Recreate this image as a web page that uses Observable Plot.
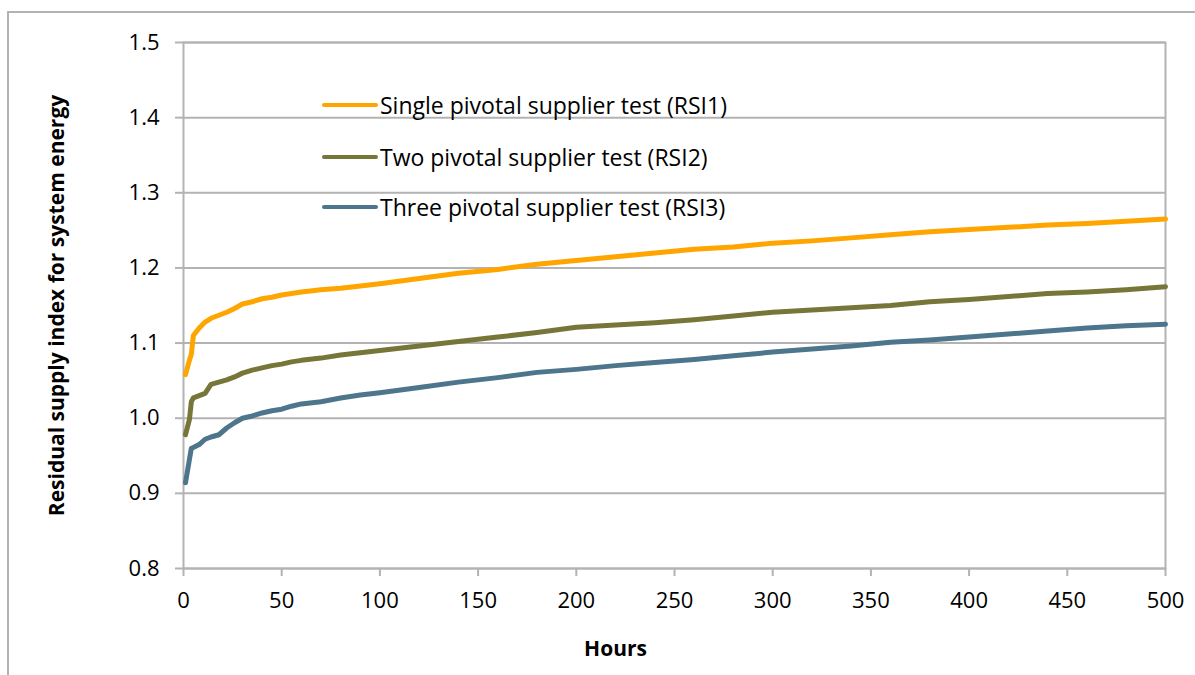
<!DOCTYPE html>
<html>
<head>
<meta charset="utf-8">
<script src="https://cdn.jsdelivr.net/npm/d3@7"></script>
<script src="https://cdn.jsdelivr.net/npm/@observablehq/plot@0.6"></script>
<style>
  html, body { margin: 0; padding: 0; background: #fff; }
  #wrap { position: relative; width: 1195px; height: 675px; overflow: hidden; font-family: "Open Sans", sans-serif; }
  #border { position: absolute; left: 7px; top: 11px; width: 1300px; height: 800px; border-left: 2px solid #b3b3b3; border-top: 2px solid #b3b3b3; }
  #chart { position: absolute; left: 0; top: 0; }
  .legend { position: absolute; left: 322px; font-size: 23px; color: #000; }
  .legend .row { position: absolute; left: 0; display: flex; align-items: center; white-space: nowrap; transform: translateY(-50%); }
  .legend .sw { width: 56px; height: 4px; border-radius: 2px; margin-right: 2px; }
</style>
</head>
<body>
<div id="wrap">
  <div id="border"></div>
  <div id="chart"></div>
  <div class="legend" id="legend"></div>
</div>
<script>
const hours = [1,3,4,5,8,11,14,18,22,26,30,35,40,45,50,55,60,70,80,90,100,120,140,160,180,200,220,240,260,280,300,320,340,360,380,400,420,440,460,480,500];
const rsi1 = [1.058,1.077,1.085,1.110,1.120,1.128,1.133,1.137,1.141,1.146,1.152,1.155,1.159,1.161,1.164,1.166,1.168,1.171,1.173,1.176,1.179,1.186,1.193,1.198,1.205,1.210,1.215,1.220,1.225,1.228,1.233,1.236,1.240,1.244,1.248,1.251,1.254,1.257,1.259,1.262,1.265];
const rsi2 = [0.978,0.998,1.022,1.027,1.030,1.033,1.045,1.048,1.051,1.055,1.060,1.064,1.067,1.070,1.072,1.075,1.077,1.080,1.084,1.087,1.090,1.096,1.102,1.108,1.114,1.121,1.124,1.127,1.131,1.136,1.141,1.144,1.147,1.150,1.155,1.158,1.162,1.166,1.168,1.171,1.175];
const rsi3 = [0.914,0.945,0.960,0.961,0.965,0.972,0.975,0.978,0.987,0.994,1.000,1.003,1.007,1.010,1.012,1.016,1.019,1.022,1.027,1.031,1.034,1.041,1.048,1.054,1.061,1.065,1.070,1.074,1.078,1.083,1.088,1.092,1.096,1.101,1.104,1.108,1.112,1.116,1.120,1.123,1.125];
const seriesNames = ["Single pivotal supplier test (RSI1)", "Two pivotal supplier test (RSI2)", "Three pivotal supplier test (RSI3)"];
const seriesColors = ["#ffa500", "#767638", "#4d758c"];
const xTicks = [0,50,100,150,200,250,300,350,400,450,500];
const yTicks = [0.8,0.9,1.0,1.1,1.2,1.3,1.4,1.5];
const xLabel = "Hours";
const yLabel = "Residual supply index for system energy";

const seriesValues = [rsi1, rsi2, rsi3];
const data = [];
seriesValues.forEach((vals, i) => vals.forEach((v, j) => data.push({series: seriesNames[i], h: hours[j], v})));

const grid = "#b3b3b3";
const chart = Plot.plot({
  width: 1195,
  height: 675,
  marginLeft: 183,
  marginRight: 30,
  marginTop: 42,
  marginBottom: 107,
  style: { fontFamily: "'Open Sans', sans-serif", fontSize: "22px", color: "#000", background: "transparent" },
  x: { domain: [0, 500] },
  y: { domain: [0.8, 1.5] },
  color: { domain: seriesNames, range: seriesColors },
  marks: [
    Plot.gridY(yTicks, { stroke: grid, strokeOpacity: 1, strokeWidth: 2 }),
    Plot.frame({ stroke: grid, strokeWidth: 2 }),
    Plot.axisY(yTicks, { tickSize: 8, tickPadding: 16, tickFormat: d => d.toFixed(1), stroke: grid, strokeWidth: 2, label: null }),
    Plot.axisX(xTicks, { tickSize: 8, tickPadding: 16, stroke: grid, strokeWidth: 2, label: null }),
    Plot.line(data, { x: "h", y: "v", z: "series", stroke: "series", strokeWidth: 5, strokeLinecap: "round", strokeLinejoin: "round" }),
    Plot.text([yLabel], { frameAnchor: "left", dx: -126, rotate: -90, textAnchor: "middle", fontWeight: "bold", fontSize: 21, text: d => d }),
    Plot.text([xLabel], { frameAnchor: "bottom", dx: -59, dy: 87, textAnchor: "middle", fontWeight: "bold", fontSize: 21, text: d => d })
  ]
});
document.getElementById("chart").appendChild(chart);

const legend = document.getElementById("legend");
const rowTops = [105, 157, 207];
seriesNames.forEach((name, i) => {
  const row = document.createElement("div");
  row.className = "row";
  row.style.top = rowTops[i] + "px";
  const sw = document.createElement("div");
  sw.className = "sw";
  sw.style.background = seriesColors[i];
  const t = document.createElement("span");
  t.textContent = name;
  row.appendChild(sw);
  row.appendChild(t);
  legend.appendChild(row);
});
</script>
</body>
</html>
